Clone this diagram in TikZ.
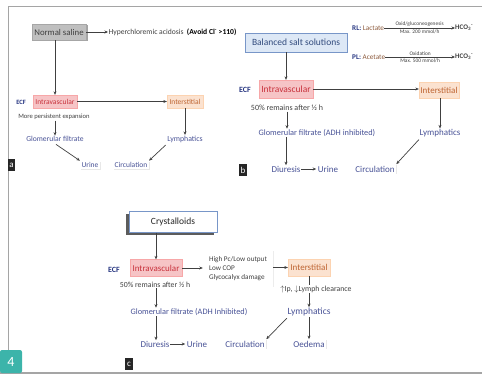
\documentclass[tikz,border=0pt]{standalone}
\usepackage{fontspec}
\setmainfont{Carlito}
\usetikzlibrary{arrows.meta,shadows,calc}
\definecolor{txtblue}{RGB}{72,82,150}
\definecolor{ecfblue}{RGB}{40,55,130}
\definecolor{ivfill}{RGB}{246,196,198}
\definecolor{ivtext}{RGB}{200,50,60}
\definecolor{isfill}{RGB}{251,226,208}
\definecolor{istext}{RGB}{190,100,50}
\definecolor{darktxt}{RGB}{64,64,64}
\definecolor{bssfill}{RGB}{221,232,246}
\definecolor{bssdraw}{RGB}{120,150,200}
\definecolor{bsstext}{RGB}{50,75,125}
\definecolor{lacbrown}{RGB}{140,90,60}
\definecolor{tealfour}{RGB}{60,180,170}
\definecolor{framegray}{RGB}{165,165,165}
\newcommand{\myfs}[1]{\fontsize{#1}{#1}\selectfont}
\tikzset{
 arr/.style={draw=darktxt, line width=0.7pt, -{Stealth[length=3.5pt,width=3pt]}},
 ln/.style={draw=darktxt, line width=0.7pt},
 txt/.style={inner sep=0.5pt, text=txtblue},
 gtxt/.style={inner sep=0.5pt, text=darktxt},
 ecf/.style={inner sep=0pt, text=ecfblue, font=\myfs{#1}\bfseries},
 ivbox/.style={fill=ivfill, draw=ivfill!85!red, line width=0.3pt, text=ivtext, inner sep=1pt},
 isbox/.style={fill=isfill, draw=isfill!85!orange, line width=0.3pt, text=istext, inner sep=1pt},
 wbox/.style={fill=white, inner sep=1.5pt, text=txtblue, drop shadow={opacity=0.18, shadow xshift=0.8pt, shadow yshift=-0.8pt}},
 tagbox/.style={fill=black!85, text=white, inner sep=0pt, minimum width=7.5pt, minimum height=12pt, font=\myfs{9}},
}
\begin{document}
\begin{tikzpicture}[x=1pt,y=-1pt]
\useasboundingbox (0,0) rectangle (482,374);
% frame
\draw[framegray, line width=1pt] (482,6.5) -- (8.5,6.5) -- (8.5,352);
\fill[framegray] (0,371.5) rectangle (482,374);
\fill[tealfour, rounded corners=2pt] (0,373) -- (0,350) -- (22,350) -- (22,373) -- cycle;
\node[text=white, font=\myfs{14}, inner sep=0pt] (four) at (11,362) {4};

% ---------- panel a ----------
\node[fill=black!25, draw=black!35, text=black!75, font=\myfs{8.8}, minimum width=54pt, minimum height=16pt, inner sep=0pt,
      drop shadow={fill=black!60, opacity=0.6, shadow xshift=1.5pt, shadow yshift=-1.5pt}] (ns) at (59,32) {Normal saline};
\node[gtxt, anchor=west, font=\myfs{7.6}] (hyp) at (108,32) {Hyperchloremic acidosis \ \textbf{\textcolor{black}{(Avoid Cl\textsuperscript{-} >110)}}};
\draw[arr] (ns.east) -- (hyp.west);
\node[ecf=6.5] (ecfa) at (21,102) {ECF};
\node[ivbox, font=\myfs{7.5}, minimum width=44pt, minimum height=13pt] (iva) at (55,101.5) {Intravascular};
\node[isbox, font=\myfs{7.5}, minimum width=36pt, minimum height=13pt] (isa) at (185,101.5) {Interstitial};
\draw[arr] (ns.south -| iva.north) -- (iva.north);
\draw[arr] (iva.east) -- (isa.west);
\node[gtxt, font=\myfs{6.6}] (mpe) at (54,117) {More persistent expansion};
\node[txt, font=\myfs{7.6}] (gfa) at (55,139) {Glomerular filtrate};
\draw[arr] (mpe.south -| gfa.north) -- (gfa.north);
\node[txt, font=\myfs{7.8}] (lya) at (185,139) {Lymphatics};
\draw[arr] (isa.south) -- (lya.north);
\node[wbox, font=\myfs{7.5}] (ua) at (90,165) {Urine};
\node[wbox, font=\myfs{7.5}] (ca) at (131,165) {Circulation};
\draw[arr] ($(gfa.south)+(1,2)$) -- (ua.north west);
\draw[arr] ($(lya.south west)+(-1,2)$) -- (ca.north east);
\node[tagbox] (taga) at (11.5,165) {a};

% ---------- panel b ----------
\node[fill=bssfill, draw=bssdraw, line width=0.5pt, text=bsstext, font=\myfs{9.5}, minimum width=102pt, minimum height=19pt, inner sep=0pt,
      drop shadow={opacity=0.2, shadow xshift=1pt, shadow yshift=-1pt}] (bss) at (296,42.5) {Balanced salt solutions};
\node[anchor=west, inner sep=0pt, font=\myfs{7.2}] (rl) at (352,28) {\textcolor{ecfblue}{\textbf{RL:}} \textcolor{lacbrown}{Lactate}};
\node[anchor=west, inner sep=0pt, font=\myfs{7}\bfseries, text=darktxt] (hco1) at (455,28) {HCO\textsubscript{3}\textsuperscript{-}};
\draw[arr] (rl.east) -- node[above=0.8pt, inner sep=0pt, font=\myfs{5.4}, text=darktxt] (ox1) {Oxid/gluconeogenesis}
   node[below=1pt, inner sep=0pt, font=\myfs{5.4}, text=darktxt] (mx1) {Max. 200 mmol/h} (hco1.west);
\node[anchor=west, inner sep=0pt, font=\myfs{7.2}] (pl) at (352,57) {\textcolor{ecfblue}{\textbf{PL:}} \textcolor{lacbrown}{Acetate}};
\node[anchor=west, inner sep=0pt, font=\myfs{7}\bfseries, text=darktxt] (hco2) at (455,57) {HCO\textsubscript{3}\textsuperscript{-}};
\draw[arr] (pl.east) -- node[above=0.8pt, inner sep=0pt, font=\myfs{5.4}, text=darktxt] (ox2) {Oxidation}
   node[below=1pt, inner sep=0pt, font=\myfs{5.4}, text=darktxt] (mx2) {Max. 500 mmol/h} (hco2.west);
\node[ecf=8] (ecfb) at (245,90) {ECF};
\node[ivbox, font=\myfs{9.5}, minimum width=54pt, minimum height=18pt] (ivb) at (286,89) {Intravascular};
\node[isbox, font=\myfs{9}, minimum width=40pt, minimum height=16pt] (isb) at (439,90) {Interstitial};
\draw[arr] (bss.south -| ivb.north) -- (ivb.north);
\draw[arr] (ivb.east) -- (isb.west |- ivb.east);
\node[gtxt, font=\myfs{8}] (remb) at (287,108) {50\% remains after ½ h};
\node[txt, font=\myfs{8.3}] (gfb) at (317,133) {Glomerular filtrate (ADH inhibited)};
\draw[arr] (remb.south) -- (remb.south |- gfb.north);
\node[txt, font=\myfs{9}] (diub) at (286,169) {Diuresis};
\draw[arr] (gfb.south -| diub.north) -- (diub.north);
\node[wbox, font=\myfs{9}] (ub) at (328,169) {Urine};
\draw[arr] (diub.east) -- (ub.west);
\node[wbox, font=\myfs{9}] (cb) at (375,169) {Circulation};
\node[txt, font=\myfs{9}] (lyb) at (440,133) {Lymphatics};
\draw[arr] (isb.south -| lyb.north) -- (lyb.north);
\draw[arr] ($(lyb.south west)+(0,2)$) -- (cb.north east);
\node[tagbox] (tagb) at (243,170) {b};

% ---------- panel c ----------
\node[fill=white, draw=bssdraw, line width=0.5pt, text=black!85, font=\myfs{9.5}, minimum width=88pt, minimum height=21pt, inner sep=0pt,
      drop shadow={fill=black!75, opacity=0.85, shadow xshift=-3pt, shadow yshift=-3pt}] (crys) at (173,222) {Crystalloids};
\node[ecf=8] (ecfc) at (114,270) {ECF};
\node[ivbox, font=\myfs{9}, minimum width=52pt, minimum height=17pt] (ivc) at (156,268) {Intravascular};
\draw[arr] (crys.south -| ivc.north) -- (ivc.north);
\node[fill=white, text=darktxt, font=\myfs{7.2}, align=left, minimum width=70pt, minimum height=36pt, inner sep=2pt,
      drop shadow={opacity=0.15, shadow xshift=0.8pt, shadow yshift=-0.8pt}] (tbc) at (238,268.5)
      {High Pc/Low output\\[1.6pt]Low COP\\[1.6pt]Glycocalyx damage};
\node[isbox, font=\myfs{9}, minimum width=42pt, minimum height=17pt] (isc) at (309,267.5) {Interstitial};
\draw[arr] (ivc.east) -- (tbc.west |- ivc.east);
\draw[arr] (tbc.east |- isc.west) -- (isc.west);
\node[gtxt, font=\myfs{7.8}] (lcl) at (316,289) {$\uparrow$Ip, $\downarrow$Lymph clearance};
\draw[ln] (isc.south) -- (isc.south |- lcl.north);
\node[txt, font=\myfs{9.5}] (lyc) at (309,312) {Lymphatics};
\draw[arr] (lcl.south -| lyc.north) -- (lyc.north);
\node[wbox, font=\myfs{9}] (oec) at (309,344) {Oedema};
\draw[arr] (lyc.south) -- (oec.north);
\node[wbox, font=\myfs{9}] (cc) at (245,344) {Circulation};
\draw[arr] ($(lyc.south west)+(0,1.5)$) -- (cc.north east);
\node[gtxt, font=\myfs{7.8}] (remc) at (155,285) {50\% remains after ½ h};
\node[txt, font=\myfs{8.3}] (gfc) at (189,312) {Glomerular filtrate (ADH Inhibited)};
\draw[arr] (remc.south -| ivc.south) -- (gfc.north -| ivc.south);
\node[txt, font=\myfs{9}] (diuc) at (155,344) {Diuresis};
\draw[arr] (gfc.south -| ivc.south) -- (diuc.north -| ivc.south);
\node[wbox, font=\myfs{9}] (uc) at (197,344) {Urine};
\draw[arr] (diuc.east) -- (uc.west);
\node[tagbox] (tagc) at (129,364) {c};
\end{tikzpicture}
\end{document}
